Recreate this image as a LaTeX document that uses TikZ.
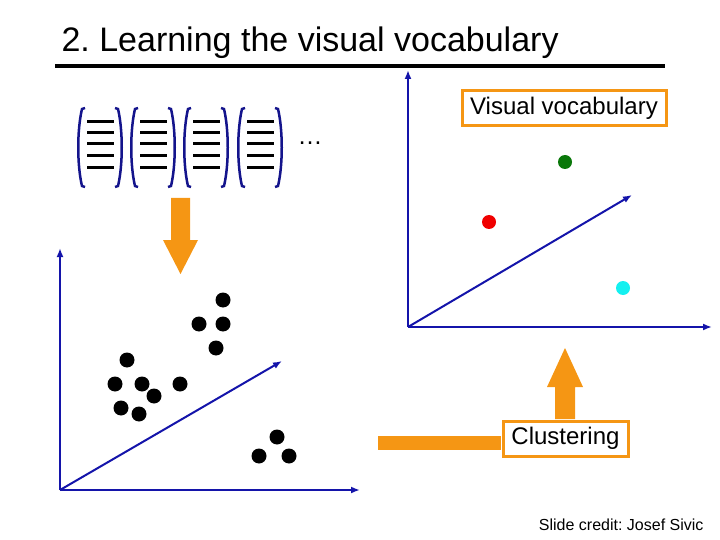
\documentclass[tikz,border=0pt]{standalone}
\usepackage{fontspec}
\setmainfont{Liberation Sans}
\usetikzlibrary{arrows.meta}
\frenchspacing
\begin{document}
\begin{tikzpicture}[x=1pt,y=-1pt,
 axis/.style={draw={rgb,255:red,20;green,20;blue,170},line width=2pt,-{Latex[length=9pt,width=7pt]}},
 bdot/.style={circle,fill=black,minimum size=15pt,inner sep=0pt},
 obox/.style={draw={rgb,255:red,245;green,150;blue,20},line width=3pt,inner sep=4pt,font=\fontsize{24}{27}\selectfont},
 bar/.style={draw={rgb,255:red,20;green,20;blue,140},line width=2.5pt},
 vl/.style={line width=3pt}]
\definecolor{org}{RGB}{245,150,20}
\useasboundingbox (0,0) rectangle (720,540);
\node[anchor=base west,font=\fontsize{34}{38}\selectfont] (title) at (58,52) {2. Learning the visual vocabulary};
\draw[line width=3.5pt] (55,66) -- (665,66);
% vectors
\foreach \x in {78,131,184,238}{
 \draw[bar] (\x+7,108) -- (\x+4,109) .. controls (\x-1,130) and (\x-1,165) .. (\x+4,186) -- (\x+7,187);
 \draw[bar] (\x+37,108) -- (\x+40,109) .. controls (\x+45,130) and (\x+45,165) .. (\x+40,186) -- (\x+37,187);
 \foreach \y in {122,133,144,156,168} \draw[vl] (\x+9,\y) -- (\x+36,\y);
}
\node[font=\fontsize{25}{28}\selectfont] (dots) at (310,143) {\dots};
% down arrow
\fill[org] (171,198) -- (190,198) -- (190,240) -- (198,240) -- (180.5,274) -- (163,240) -- (171,240) -- cycle;
% left axes
\coordinate (o1) at (60,490);
\coordinate (y1) at (60,248);
\coordinate (x1) at (360,490);
\coordinate (d1) at (282,361);
\draw[axis] (o1) -- (y1);
\draw[axis] (o1) -- (x1);
\draw[axis] (o1) -- (d1);
\foreach \p/\n in {{(223,300)}/a,{(199,324)}/b,{(223,324)}/c,{(216,348)}/d,{(127,360)}/e,{(115,384)}/f,{(142,384)}/g,{(180,384)}/h,{(154,396)}/i,{(121,408)}/j,{(139,414)}/k,{(277,437)}/l,{(259,456)}/m,{(289,456)}/n}
 \node[bdot] (p\n) at \p {};
% right axes
\coordinate (o2) at (408,327);
\coordinate (y2) at (408,70);
\coordinate (x2) at (712,327);
\coordinate (d2) at (632,195);
\draw[axis] (o2) -- (y2);
\draw[axis] (o2) -- (x2);
\draw[axis] (o2) -- (d2);
\node[circle,fill={rgb,255:red,10;green,120;blue,10},minimum size=14pt,inner sep=0pt] (g) at (565,162) {};
\node[circle,fill={rgb,255:red,240;green,0;blue,0},minimum size=14pt,inner sep=0pt] (r) at (489,222) {};
\node[circle,fill={rgb,255:red,20;green,240;blue,240},minimum size=14pt,inner sep=0pt] (cy) at (623,288) {};
\node[obox,fill=white,minimum width=204pt,minimum height=35pt] (vv) at (564,108) {Visual vocabulary};
\node[obox,fill=white,minimum width=125pt,minimum height=35pt] (cl) at (565.5,438.5) {Clustering};
% up arrow and bar
\fill[org] (555,419) -- (575,419) -- (575,387) -- (583,387) -- (565,348) -- (547,387) -- (555,387) -- cycle;
\fill[org] (378,436) rectangle (501,450);
\node[anchor=base east,font=\fontsize{16}{18}\selectfont] (credit) at (707,530) {Slide credit: Josef Sivic};
\end{tikzpicture}
\end{document}
